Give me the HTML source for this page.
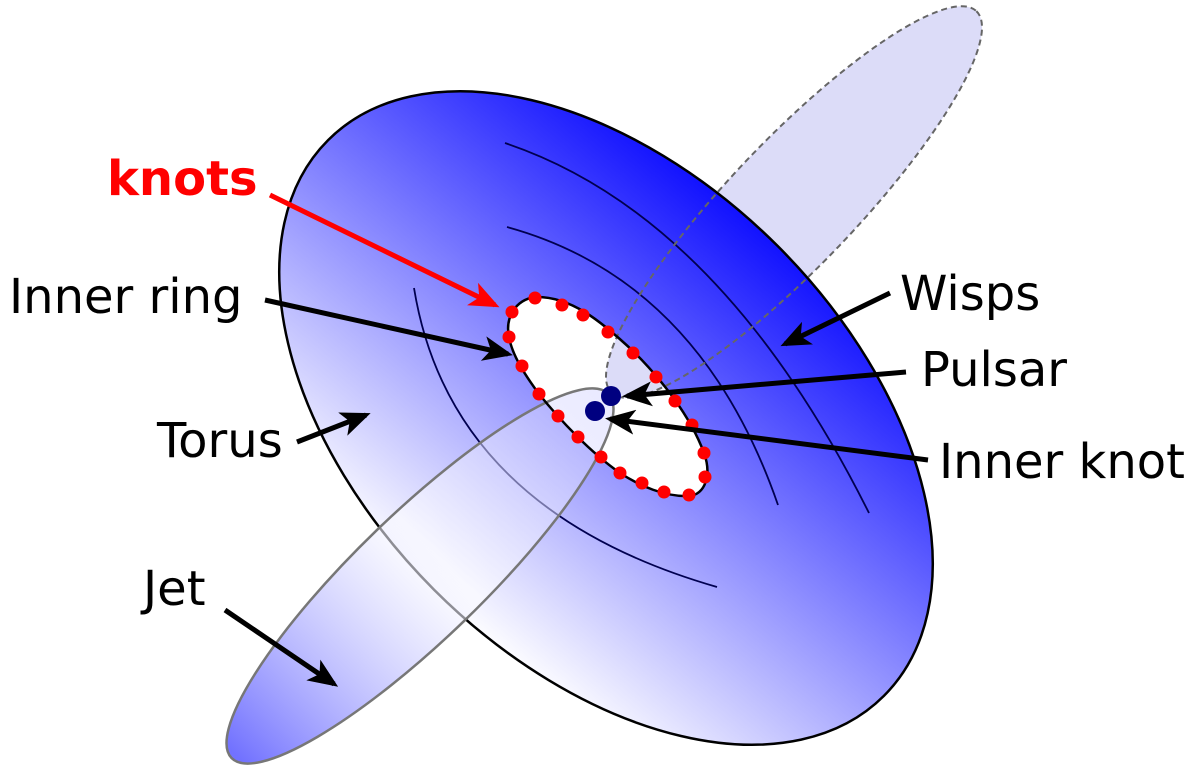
<!DOCTYPE html>
<html><head><meta charset="utf-8"><style>html,body{margin:0;padding:0;background:#fff;overflow:hidden;width:1200px;height:776px}svg{display:block}</style></head><body>
<svg width="1200" height="776" viewBox="0 0 1200 776" xmlns="http://www.w3.org/2000/svg">
<defs>
<linearGradient id="tg" gradientUnits="userSpaceOnUse" x1="480" y1="640" x2="820" y2="230" gradientTransform="rotate(-45 606 418)">
<stop offset="0" stop-color="#ffffff"/><stop offset="1" stop-color="#0000ff"/></linearGradient>
<linearGradient id="jg" gradientUnits="userSpaceOnUse" x1="235" y1="755" x2="605" y2="395" gradientTransform="rotate(44 420 576)">
<stop offset="0" stop-color="#6a6aff" stop-opacity="0.95"/>
<stop offset="0.55" stop-color="#ffffff" stop-opacity="0.55"/>
<stop offset="1" stop-color="#d0d0ff" stop-opacity="0.45"/></linearGradient>
<clipPath id="ring"><path id="rp" d="M509,337 C505,318 515,300 535,297 C570,296 600,320 634,352 C660,378 690,415 704,453 C712,475 705,495 689,496 C665,497 640,486 620,473 C590,452 560,420 539,394 C525,375 512,355 509,337 Z"/></clipPath>
<marker id="ah" markerWidth="6" markerHeight="5" refX="5" refY="2.5" orient="auto" markerUnits="strokeWidth"><path d="M0,0 L6,2.5 L0,5 L1.5,2.5 Z" fill="#000"/></marker>
<marker id="ahr" markerWidth="6" markerHeight="5" refX="5" refY="2.5" orient="auto" markerUnits="strokeWidth"><path d="M0,0 L6,2.5 L0,5 L1.5,2.5 Z" fill="#f00"/></marker>
</defs>
<ellipse cx="794" cy="202" rx="264" ry="63" transform="rotate(-46.3 794 202)" fill="#dcdcf8"/>
<ellipse cx="606" cy="418" rx="393" ry="243" transform="rotate(45 606 418)" fill="url(#tg)" stroke="#000" stroke-width="2.5"/>
<g fill="none" stroke="#000050" stroke-width="1.8">
<path d="M505,143 Q720,215 869,513"/>
<path d="M507,227 Q700,280 778,505"/>
<path d="M414,288 Q450,510 717,587"/>
</g>
<use href="#rp" fill="#fff"/>
<g clip-path="url(#ring)"><ellipse cx="794" cy="202" rx="264" ry="63" transform="rotate(-46.3 794 202)" fill="#dcdcf8"/></g>
<ellipse cx="794" cy="202" rx="264" ry="63" transform="rotate(-46.3 794 202)" fill="none" stroke="#666" stroke-width="2" stroke-dasharray="6,4"/>
<ellipse cx="420" cy="576" rx="262" ry="63" transform="rotate(-44 420 576)" fill="url(#jg)" stroke="#777" stroke-width="2.5"/>
<use href="#rp" fill="none" stroke="#000" stroke-width="2.5"/>
<g fill="#f00">
<circle cx="535" cy="298" r="6.5"/><circle cx="512" cy="312" r="6.5"/><circle cx="562" cy="305" r="6.5"/><circle cx="583" cy="315" r="6.5"/><circle cx="608" cy="332" r="6.5"/><circle cx="633" cy="353" r="6.5"/><circle cx="656" cy="377" r="6.5"/><circle cx="675" cy="401" r="6.5"/><circle cx="692" cy="425" r="6.5"/><circle cx="704" cy="453" r="6.5"/><circle cx="705" cy="477" r="6.5"/><circle cx="689" cy="495" r="6.5"/><circle cx="664" cy="492" r="6.5"/><circle cx="642" cy="483" r="6.5"/><circle cx="620" cy="473" r="6.5"/><circle cx="601" cy="457" r="6.5"/><circle cx="578" cy="437" r="6.5"/><circle cx="558" cy="416" r="6.5"/><circle cx="539" cy="394" r="6.5"/><circle cx="522" cy="366" r="6.5"/><circle cx="509" cy="337" r="6.5"/>
</g>
<circle cx="611" cy="396" r="10" fill="#000080"/>
<circle cx="595" cy="411" r="10" fill="#000080"/>
<g stroke="#000" stroke-width="5" fill="none" marker-end="url(#ah)">
<line x1="265" y1="300" x2="508" y2="354"/>
<line x1="297" y1="442" x2="366" y2="415"/>
<line x1="225" y1="610" x2="334" y2="684"/>
<line x1="890" y1="293" x2="785" y2="344"/>
<line x1="906" y1="372" x2="627" y2="396"/>
<line x1="928" y1="460" x2="610" y2="419"/>
</g>
<line x1="270" y1="195" x2="495" y2="305" stroke="#f00" stroke-width="5" marker-end="url(#ahr)"/>
<g font-family="'DejaVu Sans','Liberation Sans',sans-serif" font-size="48" fill="#000">
<text x="107" y="195" font-weight="bold" fill="#f00">knots</text>
<text x="9" y="313">Inner ring</text>
<text x="157" y="457">Torus</text>
<text x="143" y="605">Jet</text>
<text x="900" y="310">Wisps</text>
<text x="921" y="386">Pulsar</text>
<text x="939" y="478">Inner knot</text>
</g>
</svg>
</body></html>
